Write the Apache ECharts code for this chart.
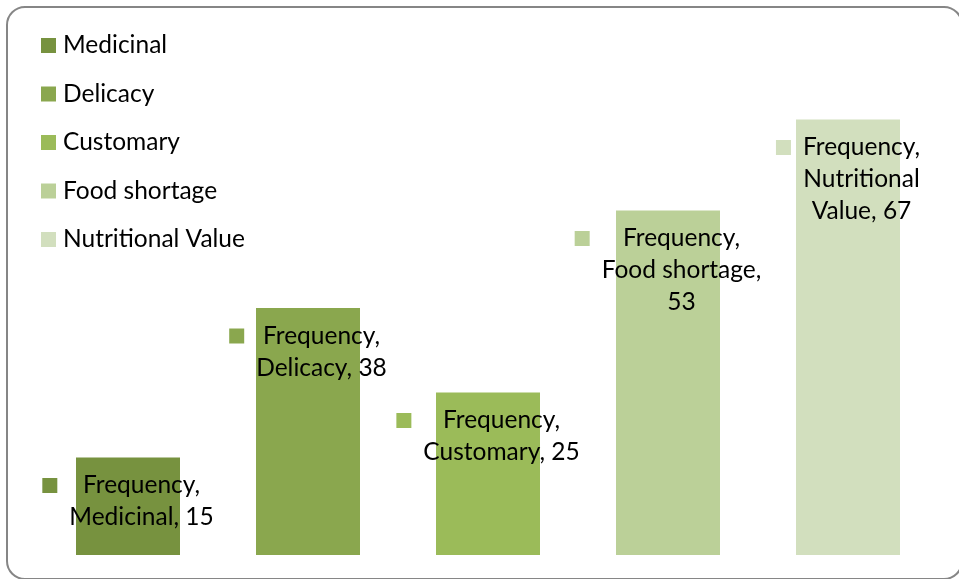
<!DOCTYPE html>
<html>
<head>
<meta charset="utf-8">
<script src="https://cdn.jsdelivr.net/npm/echarts@6/dist/echarts.min.js"></script>
<style>html,body{margin:0;padding:0;background:#fff}#c{width:959px;height:579px}</style>
</head>
<body>
<div id="c"></div>
<script>
var categories = ['Medicinal', 'Delicacy', 'Customary', 'Food shortage', 'Nutritional Value'];
var values = [15, 38, 25, 53, 67];
var colors = ['#77923F', '#8AA74E', '#9BBB59', '#BBD098', '#D2DFBE'];
var labelLines = [
  ['Frequency,', 'Medicinal, 15'],
  ['Frequency,', 'Delicacy, 38'],
  ['Frequency,', 'Customary, 25'],
  ['Frequency,', 'Food shortage,', '53'],
  ['Frequency,', 'Nutritional', 'Value, 67']
];

var FONT = 'Lato, "Open Sans", sans-serif';
var series = categories.map(function (name, i) {
  var data = categories.map(function (c, j) { return j === i ? values[i] : '-'; });
  var lines = labelLines[i];
  var text = lines.map(function (l, k) {
    return (k === 0 ? '{k|}{g|}' : '{e|}') + '{t|' + l + '}';
  }).join('\n');
  return {
    name: name,
    type: 'bar',
    stack: 'all',
    barWidth: 104,
    data: data,
    itemStyle: { color: colors[i] },
    label: {
      show: true,
      position: 'insideTop',
      distance: 12,
      formatter: function () { return text; },
      rich: {
        k: { width: 15, height: 15, backgroundColor: colors[i], align: 'left' },
        g: { width: 12, height: 15, align: 'left' },
        e: { width: 27, height: 15, align: 'left' },
        t: { fontFamily: FONT, fontSize: 24.5, color: '#000', lineHeight: 32, align: 'center' }
      }
    }
  };
});

var chart = echarts.init(document.getElementById('c'), null, { renderer: 'canvas' });
chart.setOption({
  animation: false,
  backgroundColor: '#fff',
  grid: { left: 38, right: 21, top: 35, bottom: 24, containLabel: false },
  legend: {
    orient: 'vertical',
    left: 36,
    top: 28,
    itemWidth: 15,
    itemHeight: 15,
    itemGap: 23.5,
    icon: 'rect',
    data: categories,
    textStyle: { fontFamily: FONT, fontSize: 24.5, color: '#000', padding: [0, 0, 0, 2] }
  },
  xAxis: {
    type: 'category',
    data: categories,
    show: false
  },
  yAxis: {
    type: 'value',
    min: 0,
    max: 80,
    show: false
  },
  graphic: [{
    type: 'rect',
    shape: { x: 7, y: 7, width: 955, height: 572, r: 18 },
    style: { fill: 'none', stroke: '#868686', lineWidth: 2 },
    silent: true,
    z: 100
  }],
  series: series
});
</script>
</body>
</html>
